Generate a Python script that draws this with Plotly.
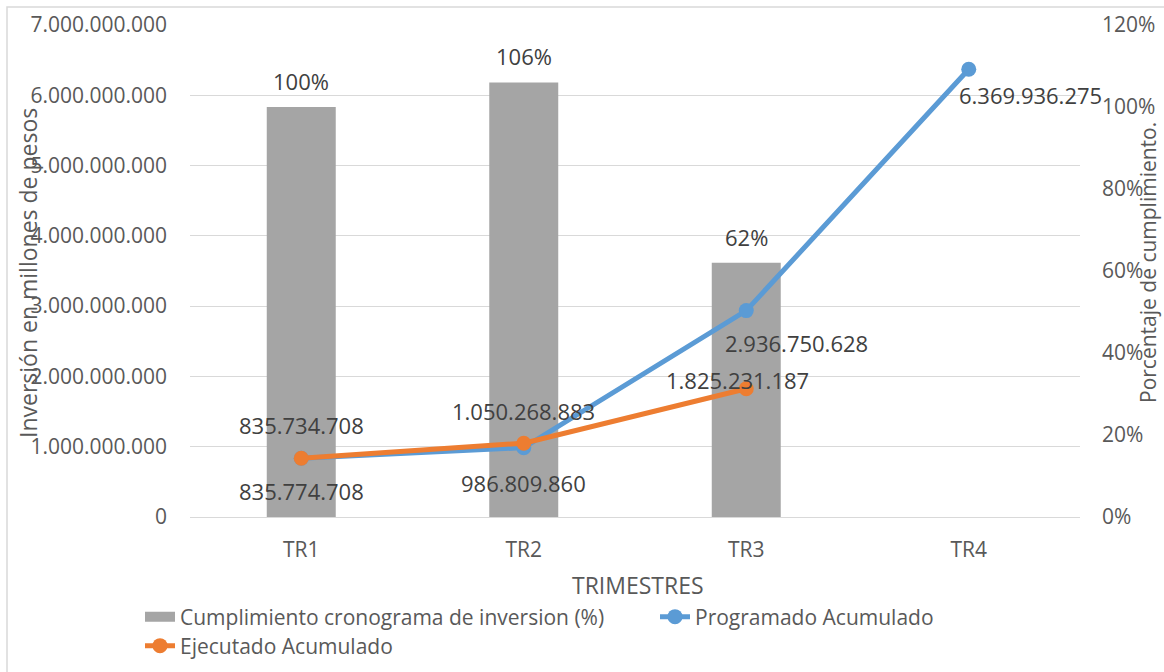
import plotly.graph_objects as go

categories = ["TR1", "TR2", "TR3", "TR4"]
cumplimiento = [1.00, 1.06, 0.62]
programado = [835774708, 986809860, 2936750628, 6369936275]
ejecutado = [835734708, 1050268883, 1825231187]

left_ticks = [0, 1e9, 2e9, 3e9, 4e9, 5e9, 6e9, 7e9]

FONT = "Open Sans"
TXT = "#404040"
AX = "#595959"
GRID = "#d9d9d9"
BAR = "#A5A5A5"

def fmt(v):
    return f"{int(v):,}".replace(",", ".")

L, T, W, H = 190, 25, 890, 492
def px(x):
    return (x - L) / W
def py(y):
    return (T + H - y) / H

fig = go.Figure()
# bars on primary y (right side, percentages)
fig.add_trace(go.Bar(
    x=categories[:len(cumplimiento)], y=cumplimiento, yaxis="y",
    name="Cumplimiento cronograma de inversion (%)",
    marker=dict(color=BAR, line=dict(width=0)), width=0.31,
    hoverinfo="skip", showlegend=False))
# legend proxy for the bar series (wide rectangular swatch)
fig.add_trace(go.Scatter(
    x=[None], y=[None], mode="lines", yaxis="y",
    name="Cumplimiento cronograma de inversion (%)",
    line=dict(color=BAR, width=14), legend="legend", showlegend=True, hoverinfo="skip"))
# lines on overlaying y2 (left side, pesos)
fig.add_trace(go.Scatter(
    x=categories, y=programado, mode="lines+markers", yaxis="y2",
    name="Programado Acumulado",
    line=dict(color="#5B9BD5", width=5), marker=dict(size=15, color="#5B9BD5"),
    legend="legend2", hoverinfo="skip", showlegend=True))
fig.add_trace(go.Scatter(
    x=categories[:len(ejecutado)], y=ejecutado, mode="lines+markers", yaxis="y2",
    name="Ejecutado Acumulado",
    line=dict(color="#ED7D31", width=5), marker=dict(size=15, color="#ED7D31"),
    legend="legend3", hoverinfo="skip", showlegend=True))

LBL = dict(family=FONT, size=22, color=TXT)
ann = []
for c, v in zip(categories, cumplimiento):
    ann.append(dict(x=c, y=v, yref="y", xref="x", text=f"{round(v*100)}%",
                    showarrow=False, yshift=26, font=LBL))
prog_shift = [(0, -33), (0, -35), (50, -32), (62, -26)]
for c, v, (dx, dy) in zip(categories, programado, prog_shift):
    ann.append(dict(x=c, y=v, xref="x", yref="y2", text=fmt(v), showarrow=False,
                    xshift=dx, yshift=dy, font=LBL))
ejec_shift = [(0, 33), (0, 32), (-9, 9)]
for c, v, (dx, dy) in zip(categories, ejecutado, ejec_shift):
    ann.append(dict(x=c, y=v, xref="x", yref="y2", text=fmt(v), showarrow=False,
                    xshift=dx, yshift=dy, font=LBL))
ann.append(dict(x=px(28), y=py(273), xref="paper", yref="paper", xanchor="center", yanchor="middle",
                text="Inversión en millones de pesos", textangle=-90, showarrow=False,
                font=dict(family=FONT, size=23, color=AX)))
ann.append(dict(x=px(1148), y=py(263), xref="paper", yref="paper", xanchor="center", yanchor="middle",
                text="Porcentaje de cumplimiento.", textangle=-90, showarrow=False,
                font=dict(family=FONT, size=21, color=AX)))
ann.append(dict(x=px(638), y=py(585), xref="paper", yref="paper", xanchor="center", yanchor="middle",
                text="TRIMESTRES", showarrow=False, font=dict(family=FONT, size=23, color=AX)))

legend_font = dict(family=FONT, size=21, color=AX)
TICK = dict(family=FONT, size=21, color=AX)
fig.update_layout(
    width=1164, height=672,
    margin=dict(l=L, r=1164 - L - W, t=T, b=672 - T - H, autoexpand=False),
    paper_bgcolor="white", plot_bgcolor="white",
    separators=",.",
    showlegend=True,
    hovermode=False,
    font=dict(family=FONT, size=20, color=AX),
    xaxis=dict(type="category", categoryarray=categories, range=[-0.5, 3.5],
               showgrid=False, showline=True, linecolor=GRID, linewidth=1.3,
               ticks="", ticklabelstandoff=14, tickfont=TICK, automargin=False),
    yaxis=dict(range=[0, 1.2], dtick=0.2, tickformat=".0%", side="right",
               showgrid=False, zeroline=False, ticks="", ticklabelstandoff=21,
               tickfont=TICK, automargin=False),
    yaxis2=dict(range=[0, 7e9], tickvals=left_ticks, tickformat=",d", side="left",
                overlaying="y", showgrid=True, gridcolor=GRID, gridwidth=1.3,
                zeroline=False, ticks="", ticklabelstandoff=22, tickfont=TICK,
                automargin=False),
    legend=dict(x=px(140), y=py(617), xanchor="left", yanchor="middle", orientation="h",
                font=legend_font, bgcolor="rgba(0,0,0,0)"),
    legend2=dict(x=px(655), y=py(617), xanchor="left", yanchor="middle", orientation="h",
                 font=legend_font, bgcolor="rgba(0,0,0,0)"),
    legend3=dict(x=px(140), y=py(646), xanchor="left", yanchor="middle", orientation="h",
                 font=legend_font, bgcolor="rgba(0,0,0,0)"),
    annotations=ann,
    shapes=[dict(type="rect", xref="paper", yref="paper",
                 x0=px(7), x1=px(1172), y0=py(682), y1=py(7),
                 line=dict(color=GRID, width=1.5), layer="below")],
)

fig.write_html("out.html", config={"displayModeBar": False},
               post_script="document.body.style.margin='0';document.body.style.overflow='hidden';")
